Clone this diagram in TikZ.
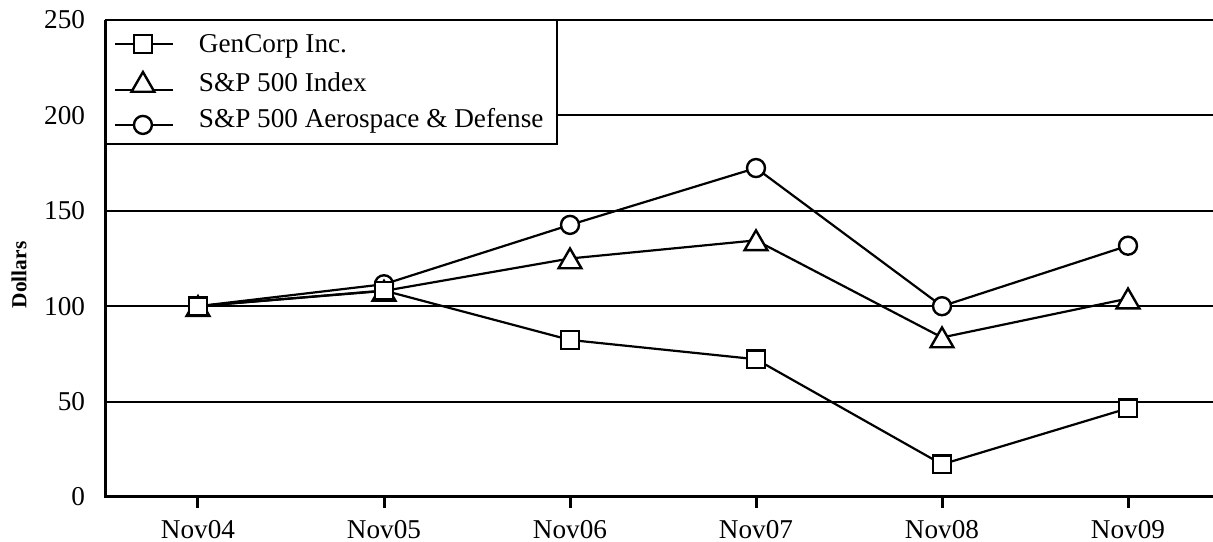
\documentclass[tikz,border=0pt]{standalone}
\usepackage{fontspec}
\setmainfont{Liberation Serif}
\usetikzlibrary{plotmarks}

\begin{document}
\begin{tikzpicture}[x=93pt,y=0.954pt,line width=1pt,
  lbl/.style={font=\fontsize{13.6}{15}\selectfont,inner sep=0pt},
  sqmark/.style={mark=square*,mark size=4.4pt,mark options={fill=white,line width=1.2pt}},
  trimark/.style={mark=triangle*,mark size=6.6pt,mark options={fill=white,line width=1.2pt,yshift=-1.6pt}},
  cirmark/.style={mark=*,mark size=4.5pt,mark options={fill=white,line width=1.2pt}}]
\path[use as bounding box] (-1.0645,-23.585) rectangle (5.457,260.48);
% grid lines
\foreach \v in {50,100,...,250}
  \draw (-0.497,\v) -- (5.457,\v);
% legend box
\draw[fill=white] (-0.497,185) rectangle (1.930,250);
\draw[line width=1.1pt] (-0.446,195) -- (-0.134,195);
\draw[line width=1.1pt] (-0.446,213.3) -- (-0.134,213.3);
\draw[line width=1.1pt] (-0.446,237.4) -- (-0.134,237.4);
\path[cirmark] plot coordinates {(-0.296,195)};
\path[trimark] plot coordinates {(-0.296,217.5)};
\path[sqmark] plot coordinates {(-0.296,237.4)};
\node[lbl,anchor=base west] (legGen) at (0,232.7) {GenCorp Inc.};
\node[lbl,anchor=base west] (legIdx) at (0,212.3) {S\&P 500 Index};
\node[lbl,anchor=base west] (legAero) at (0,193.4) {S\&P 500 Aerospace \& Defense};
% axes
\draw[line width=1.5pt] (-0.497,250) -- (-0.497,0) -- (5.457,0);
\foreach \v in {0,50,...,250}
  \node[lbl,anchor=east] (y\v) at (-0.602,\v) {\v};
\node[rotate=90,font=\fontsize{10.7}{12}\selectfont\bfseries] (ylab) at (-0.962,116.4) {Dollars};
\foreach \i/\t in {0/Nov04,1/Nov05,2/Nov06,3/Nov07,4/Nov08,5/Nov09}{
  \draw[line width=1.5pt] (\i,0) -- (\i,-5.8);
  \node[lbl,anchor=base] (x\i) at (\i,-21.5) {\t};
}
% data
\draw[line width=1.1pt,cirmark] plot coordinates {(0,100) (1,111.5) (2,142.6) (3,172.4) (4,100) (5,131.7)};
\draw[line width=1.1pt,trimark] plot coordinates {(0,100) (1,108) (2,125) (3,134.5) (4,83.6) (5,104)};
\draw[line width=1.1pt,sqmark] plot coordinates {(0,100) (1,108.2) (2,82.3) (3,72.2) (4,17.1) (5,46.5)};
\end{tikzpicture}
\end{document}
